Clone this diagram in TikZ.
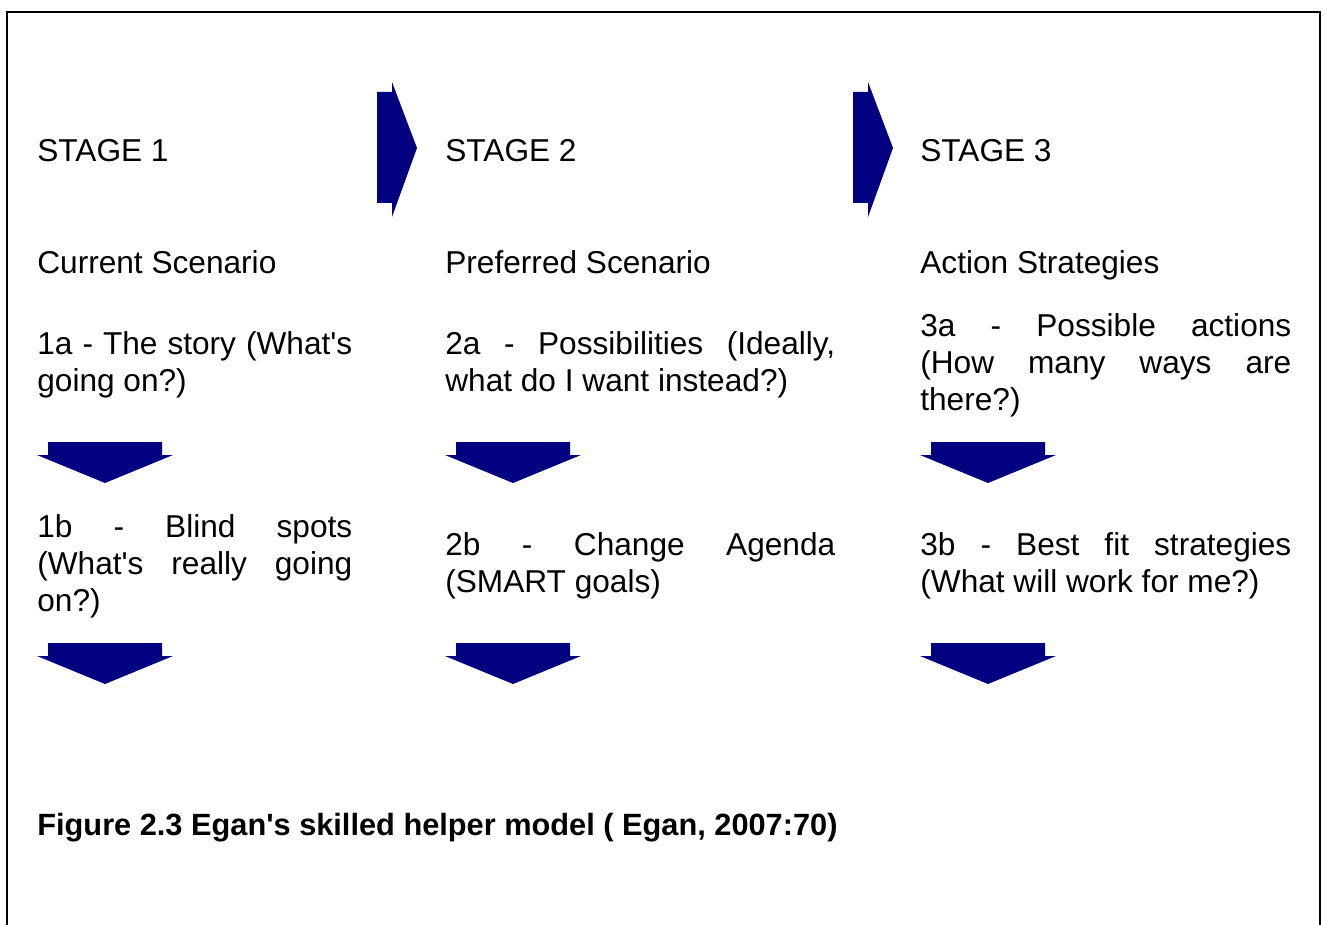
\documentclass[tikz,border=0pt]{standalone}
\usepackage{fontspec}
\setmainfont{Liberation Sans}
\definecolor{arrowblue}{RGB}{0,0,128}
\newcommand{\apos}{\textquotesingle}
\tikzset{
  celltext/.style={anchor=west, inner sep=0pt, align=justify, text width=#1,
    font=\fontsize{18}{21.06}\selectfont},
  celltext/.default=8cm,
  captiontext/.style={anchor=base west, inner sep=0pt,
    font=\fontsize{17.5}{21}\selectfont\bfseries},
  blockarrow/.style={fill=arrowblue}
}
\begin{document}
\begin{tikzpicture}[x=0.02cm, y=-0.02cm]
      \useasboundingbox (0,0) rectangle (1327,925);
      % frame, open at the bottom
      \draw[line width=0.05cm] (7,925) -- (7,12) -- (1320,12) -- (1320,925);
      % stages
      \node[celltext] (s1) at (37,154) {\strut STAGE 1};
      \node[celltext] (s2) at (445,154) {\strut STAGE 2};
      \node[celltext] (s3) at (920,154) {\strut STAGE 3};
      \node[celltext] (sc1) at (37,266) {\strut Current Scenario};
      \node[celltext] (sc2) at (445,266) {\strut Preferred Scenario};
      \node[celltext] (sc3) at (920,266) {\strut Action Strategies};
      % first steps
      \node[celltext=6.3cm] (a1) at (37,366)
        {\strut 1a - The story (What\apos s\linebreak going on?)\strut};
      \node[celltext=7.8cm] (a2) at (445,366)
        {\strut 2a - Possibilities (Ideally,\linebreak what do I want instead?)\strut};
      \node[celltext=7.42cm] (a3) at (920,366)
        {\strut 3a - Possible actions\linebreak (How many ways are\linebreak there?)\strut};
      % second steps
      \node[celltext=6.3cm] (b1) at (37,567)
        {\strut 1b - Blind spots\linebreak (What\apos s really going\linebreak on?)\strut};
      \node[celltext=7.8cm] (b2) at (445,567)
        {\strut 2b - Change Agenda\linebreak (SMART goals)\strut};
      \node[celltext=7.42cm] (b3) at (920,567)
        {\strut 3b - Best fit strategies\linebreak (What will work for me?)\strut};
      % arrows between stages
      \foreach \x in {0,476}
        \fill[blockarrow] (377+\x,92) -- (392+\x,92) -- (392+\x,82) -- (417+\x,148)
          -- (392+\x,217) -- (392+\x,203) -- (377+\x,203) -- cycle;
      % arrows down the columns
      \foreach \x in {0,408,883}
        \foreach \y in {0,201}
          \fill[blockarrow] (48+\x,442+\y) -- (162+\x,442+\y) -- (162+\x,455+\y)
            -- (173+\x,455+\y) -- (105+\x,483+\y) -- (37+\x,455+\y)
            -- (48+\x,455+\y) -- cycle;
      \node[captiontext] (cap) at (37,835)
        {Figure 2.3 Egan\apos s skilled helper model ( Egan, 2007:70)};
    \end{tikzpicture}
\end{document}
